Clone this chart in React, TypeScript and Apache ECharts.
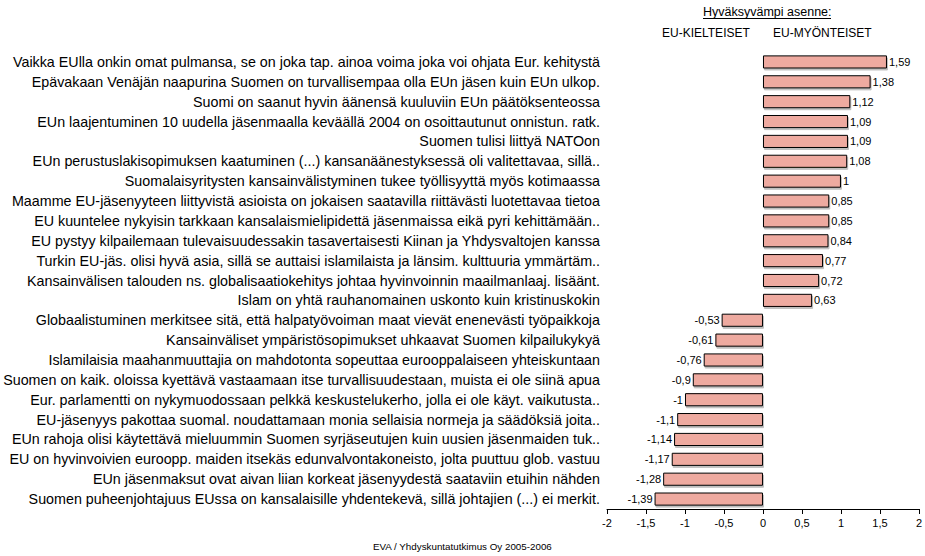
import React, { useEffect, useRef } from "react";
import * as echarts from "echarts";

const categories: string[] = [
  "Vaikka EUlla onkin omat pulmansa, se on joka tap. ainoa voima joka voi ohjata Eur. kehitystä",
  "Epävakaan Venäjän naapurina Suomen on turvallisempaa olla EUn jäsen kuin EUn ulkop.",
  "Suomi on saanut hyvin äänensä kuuluviin EUn päätöksenteossa",
  "EUn laajentuminen 10 uudella jäsenmaalla keväällä 2004 on osoittautunut onnistun. ratk.",
  "Suomen tulisi liittyä NATOon",
  "EUn perustuslakisopimuksen kaatuminen (...) kansanäänestyksessä oli valitettavaa, sillä..",
  "Suomalaisyritysten kansainvälistyminen tukee työllisyyttä myös kotimaassa",
  "Maamme EU-jäsenyyteen liittyvistä asioista on jokaisen saatavilla riittävästi luotettavaa tietoa",
  "EU kuuntelee nykyisin tarkkaan kansalaismielipidettä jäsenmaissa eikä pyri kehittämään..",
  "EU pystyy kilpailemaan tulevaisuudessakin tasavertaisesti Kiinan ja Yhdysvaltojen kanssa",
  "Turkin EU-jäs. olisi hyvä asia, sillä se auttaisi islamilaista ja länsim. kulttuuria ymmärtäm..",
  "Kansainvälisen talouden ns. globalisaatiokehitys johtaa hyvinvoinnin maailmanlaaj. lisäänt.",
  "Islam on yhtä rauhanomainen uskonto kuin kristinuskokin",
  "Globaalistuminen merkitsee sitä, että halpatyövoiman maat vievät enenevästi työpaikkoja",
  "Kansainväliset ympäristösopimukset uhkaavat Suomen kilpailukykyä",
  "Islamilaisia maahanmuuttajia on mahdotonta sopeuttaa eurooppalaiseen yhteiskuntaan",
  "Suomen on kaik. oloissa kyettävä vastaamaan itse turvallisuudestaan, muista ei ole siinä apua",
  "Eur. parlamentti on nykymuodossaan pelkkä keskustelukerho, jolla ei ole käyt. vaikutusta..",
  "EU-jäsenyys pakottaa suomal. noudattamaan monia sellaisia normeja ja säädöksiä joita..",
  "EUn rahoja olisi käytettävä mieluummin Suomen syrjäseutujen kuin uusien jäsenmaiden tuk..",
  "EU on hyvinvoivien euroopp. maiden itsekäs edunvalvontakoneisto, jolta puuttuu glob. vastuu",
  "EUn jäsenmaksut ovat aivan liian korkeat jäsenyydestä saataviin etuihin nähden",
  "Suomen puheenjohtajuus EUssa on kansalaisille yhdentekevä, sillä johtajien (...) ei merkit.",
];

const values: number[] = [
  1.59, 1.38, 1.12, 1.09, 1.09, 1.08, 1, 0.85, 0.85, 0.84, 0.77, 0.72, 0.63,
  -0.53, -0.61, -0.76, -0.9, -1, -1.1, -1.14, -1.17, -1.28, -1.39,
];

const headerTitle = "Hyväksyvämpi asenne:";
const headerLeft = "EU-KIELTEISET";
const headerRight = "EU-MYÖNTEISET";
const footer = "EVA / Yhdyskuntatutkimus Oy 2005-2006";

const fmt = (v: number) => String(v).replace(".", ",");

export default function App() {
  const ref = useRef<HTMLDivElement>(null);
  useEffect(() => {
    if (!ref.current) return;
    const chart = echarts.init(ref.current, undefined, { renderer: "svg" });
    const font = "Arial, 'Liberation Sans', sans-serif";
    chart.setOption({
      animation: false,
      textStyle: { fontFamily: font, color: "#000" },
      grid: { left: 607, right: 4, top: 52, bottom: 47, containLabel: false },
      xAxis: {
        type: "value",
        min: -2,
        max: 2,
        interval: 0.5,
        axisLine: { show: true, lineStyle: { color: "#000", width: 1 } },
        axisTick: { show: true, length: 5, lineStyle: { color: "#000" } },
        splitLine: { show: false },
        axisLabel: {
          color: "#000",
          fontSize: 11,
          fontFamily: font,
          margin: 8,
          formatter: (v: number) => fmt(v),
        },
      },
      yAxis: {
        type: "category",
        data: categories,
        inverse: true,
        axisLine: { show: false },
        axisTick: { show: false },
        axisLabel: {
          color: "#000",
          fontSize: 14.3,
          fontFamily: font,
          margin: 7,
          overflow: "none",
        },
      },
      series: [
        {
          type: "bar",
          data: values.map((v) =>
            v < 0 ? { value: v, label: { position: "left" } } : { value: v }
          ),
          barWidth: "66%",
          itemStyle: {
            color: "#eeaaa0",
            borderColor: "#000",
            borderWidth: 1,
            shadowColor: "rgba(0,0,0,0.25)",
            shadowOffsetX: 1,
            shadowOffsetY: 2,
            shadowBlur: 0,
          },
          label: {
            show: true,
            position: "right",
            fontSize: 11,
            fontFamily: font,
            color: "#000",
            distance: 2,
            formatter: (p: any) => fmt(p.value),
          },
        },
      ],
      graphic: [
        {
          type: "text",
          left: 703,
          top: 5,
          style: { text: headerTitle, fontSize: 12.5, fontFamily: font, fill: "#000" },
        },
        {
          type: "line",
          shape: { x1: 703, y1: 18.5, x2: 831, y2: 18.5 },
          style: { stroke: "#000", lineWidth: 1 },
        },
        {
          type: "text",
          left: 662,
          top: 27,
          style: { text: headerLeft, fontSize: 12, fontFamily: font, fill: "#000" },
        },
        {
          type: "text",
          left: 773,
          top: 27,
          style: { text: headerRight, fontSize: 12, fontFamily: font, fill: "#000" },
        },
        {
          type: "text",
          left: 373,
          top: 541,
          style: { text: footer, fontSize: 9.8, fontFamily: font, fill: "#000" },
        },
      ],
    });
    return () => chart.dispose();
  }, []);
  return (
    <div
      ref={ref}
      style={{ position: "absolute", left: 0, top: 0, width: 925, height: 556 }}
    />
  );
}
